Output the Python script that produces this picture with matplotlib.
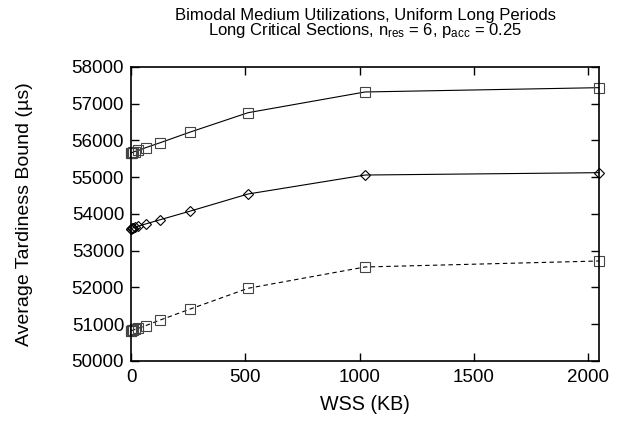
import matplotlib
matplotlib.use("Agg")
import matplotlib.pyplot as plt
from matplotlib.ticker import MultipleLocator

plt.rcParams["font.family"] = ["Liberation Sans", "DejaVu Sans"]
plt.rcParams["mathtext.fontset"] = "custom"
plt.rcParams["mathtext.rm"] = "Liberation Sans"
plt.rcParams["mathtext.it"] = "Liberation Sans"

# Datos
wss = [1, 2, 4, 8, 16, 32, 64, 128, 256, 512, 1024, 2048]
serie_alta = [55660, 55665, 55670, 55680, 55700, 55730, 55804, 55940, 56223, 56756, 57320, 57437]
serie_media = [53600, 53605, 53610, 53620, 53640, 53670, 53728, 53845, 54073, 54544, 55060, 55124]
serie_baja = [50820, 50825, 50830, 50840, 50860, 50890, 50962, 51116, 51407, 51978, 52558, 52721]

fig, ax = plt.subplots(figsize=(6.21, 4.25), dpi=100)
fig.subplots_adjust(left=0.211, right=0.9646, top=0.8424, bottom=0.1506)

# Tres series, marcadores sin relleno (estilo gnuplot)
ax.plot(wss, serie_alta, "-", color="black", lw=0.8, marker="s", ms=7,
        mfc="none", mec="#444444", mew=0.8, clip_on=False)
ax.plot(wss, serie_media, "-", color="black", lw=0.8, marker="D", ms=5.5,
        mfc="none", mec="black", mew=0.8, clip_on=False)
ax.plot(wss, serie_baja, "--", color="black", lw=0.8, dashes=(4, 3), marker="s", ms=7,
        mfc="none", mec="#444444", mew=0.8, clip_on=False)

ax.set_xlim(0, 2048)
ax.set_ylim(50000, 58000)
ax.xaxis.set_major_locator(MultipleLocator(500))
ax.yaxis.set_major_locator(MultipleLocator(1000))
ax.tick_params(direction="in", top=True, right=True, length=6, width=1, labelsize=13.5)
ax.tick_params(axis="x", pad=6)
ax.tick_params(axis="y", pad=5)
for s in ax.spines.values():
    s.set_linewidth(1.2)

ax.set_xlabel("WSS (KB)", fontsize=14.2, labelpad=6)
ax.set_ylabel("Average Tardiness Bound (\u00b5s)", fontsize=14, labelpad=28)
ax.set_title("Bimodal Medium Utilizations, Uniform Long Periods\n"
             "Long Critical Sections, n$_{\\rm res}$ = 6, p$_{\\rm acc}$ = 0.25",
             fontsize=12, linespacing=0.85, pad=23)

plt.savefig("out.png", dpi=100)
plt.close()
